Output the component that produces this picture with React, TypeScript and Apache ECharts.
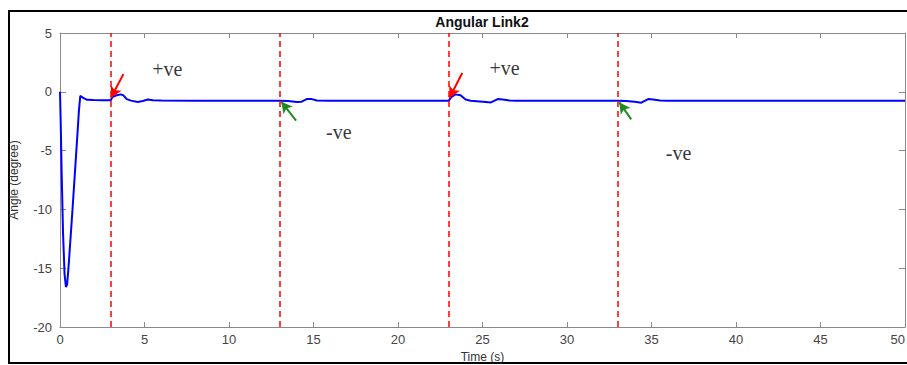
import React, { useEffect, useRef } from "react";
import * as echarts from "echarts";

// Blue response curve: time (s) and angle (degree)
const times = [
  0, 0.04, 0.1, 0.18, 0.27, 0.35, 0.42, 0.5, 0.75, 1.0, 1.12, 1.2, 1.35, 1.6, 2.0, 2.5, 3.0,
  3.1, 3.3, 3.6, 3.75, 3.95, 4.2, 4.6, 4.9, 5.2, 5.5, 6.0, 8, 10, 13.0,
  13.5, 14.0, 14.3, 14.6, 14.9, 15.2, 16, 20, 23.0,
  23.15, 23.4, 23.7, 24.0, 24.3, 25.2, 25.5, 25.9, 26.2, 26.6, 27, 30, 33.0,
  33.5, 34.0, 34.4, 34.8, 35.1, 35.5, 36, 40, 45, 50,
];
const angles = [
  0, -2.5, -7.0, -12.0, -15.5, -16.6, -16.4, -15.0, -9.8, -4.3, -1.6, -0.35, -0.5, -0.68, -0.7, -0.72, -0.72,
  -0.45, -0.32, -0.22, -0.3, -0.62, -0.75, -0.86, -0.78, -0.66, -0.72, -0.75, -0.76, -0.76, -0.76,
  -0.78, -0.86, -0.84, -0.62, -0.62, -0.74, -0.76, -0.76, -0.76,
  -0.45, -0.22, -0.3, -0.65, -0.76, -0.86, -0.9, -0.62, -0.66, -0.74, -0.76, -0.76, -0.76,
  -0.78, -0.85, -0.93, -0.62, -0.66, -0.74, -0.76, -0.76, -0.76, -0.76,
];

// Vertical dashed event lines (s)
const eventTimes = [3, 13, 23, 33];

// Annotation arrows: start (time, angle) -> end (time, angle)
const arrowStartT = [3.75, 13.97, 23.8, 33.8];
const arrowStartY = [1.5, -2.45, 1.6, -2.35];
const arrowEndT = [3.02, 13.1, 23.05, 33.1];
const arrowEndY = [-0.5, -0.85, -0.5, -0.9];
const arrowColors = ["#ff0000", "#1f8a1f", "#ff0000", "#1f8a1f"];

// Annotation labels
const noteTexts = ["+ve", "-ve", "+ve", "-ve"];
const noteT = [6.35, 16.5, 26.3, 36.6];
const noteY = [1.95, -3.4, 2.0, -5.2];

// Axis ticks
const xMin = 0, xMax = 50, xStep = 5;
const yMin = -20, yMax = 5, yStep = 5;

export default function App() {
  const ref = useRef<HTMLDivElement>(null);
  useEffect(() => {
    if (!ref.current) return;
    const chart = echarts.init(ref.current, undefined, { renderer: "svg" });
    const axisColor = "#8a8a8a";
    const labelColor = "#444";
    const font = "Liberation Sans";
    const baseX = {
      type: "value" as const,
      min: xMin,
      max: xMax,
      interval: xStep,
      splitLine: { show: false },
      axisLine: { show: true, onZero: false, lineStyle: { color: axisColor, width: 1 } },
      axisTick: { show: true, inside: true, length: 5, lineStyle: { color: axisColor } },
    };
    const baseY = {
      type: "value" as const,
      min: yMin,
      max: yMax,
      interval: yStep,
      splitLine: { show: false },
      axisLine: { show: true, onZero: false, lineStyle: { color: axisColor, width: 1 } },
      axisTick: { show: true, inside: true, length: 6, lineStyle: { color: axisColor } },
    };
    chart.setOption({
      animation: false,
      grid: {
        left: 60,
        right: 2,
        top: 33,
        bottom: 38,
        containLabel: false,
        outerBoundsMode: "none",
      },
      graphic: [
        {
          type: "rect",
          shape: { x: 9, y: 11, width: 905, height: 352 },
          style: { fill: "none", stroke: "#000", lineWidth: 2 },
          z: 0,
        },
        {
          type: "text",
          x: 482,
          y: 22,
          style: {
            text: "Angular Link2",
            fill: "#111",
            font: `bold 14px "${font}"`,
            textAlign: "center",
            textVerticalAlign: "middle",
          },
        },
      ],
      xAxis: [
        {
          ...baseX,
          position: "bottom",
          name: "Time (s)",
          nameLocation: "middle",
          nameGap: 21,
          nameTextStyle: { color: "#333", fontSize: 12, fontFamily: font },
          axisLabel: {
            color: labelColor,
            fontSize: 13,
            fontFamily: font,
            margin: 6,
            alignMaxLabel: "right",
          },
        },
        { ...baseX, position: "top", axisLabel: { show: false } },
      ],
      yAxis: [
        {
          ...baseY,
          position: "left",
          name: "Angle (degree)",
          nameLocation: "middle",
          nameGap: 40,
          nameTextStyle: { color: "#333", fontSize: 12, fontFamily: font },
          axisLabel: { color: labelColor, fontSize: 13, fontFamily: font, margin: 8 },
        },
        { ...baseY, position: "right", axisLabel: { show: false } },
      ],
      series: [
        {
          type: "line",
          data: times.map((t, i) => [t, angles[i]]),
          showSymbol: false,
          symbol: "none",
          lineStyle: { color: "#0000ff", width: 2 },
          z: 3,
          markLine: {
            silent: true,
            symbol: ["none", "none"],
            label: { show: false },
            lineStyle: { color: "#ff0000", type: [6, 4], width: 1.5 },
            data: eventTimes.map((t) => ({ xAxis: t })),
          },
        },
        {
          type: "scatter",
          data: noteTexts.map((s, i) => ({ name: s, value: [noteT[i], noteY[i]] })),
          symbolSize: 0,
          label: {
            show: true,
            position: "inside",
            formatter: "{b}",
            color: "#000",
            fontSize: 20,
            fontFamily: "Liberation Serif",
          },
          z: 4,
          markLine: {
            silent: true,
            label: { show: false },
            symbolSize: [9, 11],
            data: arrowStartT.map((t, i) => [
              { coord: [t, arrowStartY[i]], symbol: "none", lineStyle: { color: arrowColors[i], width: 2, type: "solid" } },
              { coord: [arrowEndT[i], arrowEndY[i]], symbol: "arrow" },
            ]),
          },
        },
      ],
    });
    return () => chart.dispose();
  }, []);
  return (
    <div
      ref={ref}
      style={{ position: "fixed", left: 0, top: 0, width: 907, height: 365, background: "#fff" }}
    />
  );
}
